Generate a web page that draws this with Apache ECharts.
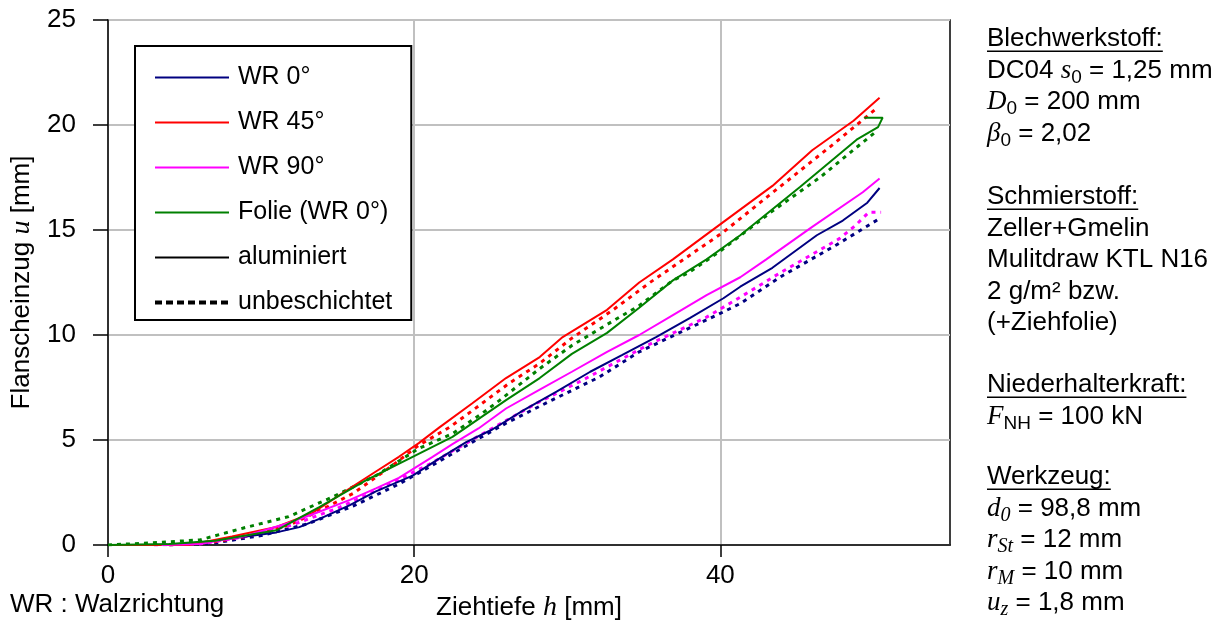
<!DOCTYPE html>
<html>
<head>
<meta charset="utf-8">
<script src="https://cdn.jsdelivr.net/npm/echarts@6/dist/echarts.min.js"></script>
<style>
  html, body { margin: 0; padding: 0; background: #fff; }
  #chart { width: 1220px; height: 624px; }
</style>
</head>
<body>
<div id="chart"></div>
<script>
// Flanscheinzug u [mm] over Ziehtiefe h [mm]; pairs are [h, u]
const wr0Aluminiert = [[0,0],[3,0],[5,0.05],[7,0.2],[9,0.4],[11,0.6],[12.5,0.85],[14,1.3],[15.8,1.9],[17.5,2.55],[19.9,3.3],[21.5,4.05],[23.4,4.9],[25.1,5.5],[27.1,6.4],[29.3,7.3],[31.5,8.25],[33.6,9.05],[35.8,9.9],[38,10.8],[40.2,11.75],[41.3,12.3],[43.4,13.2],[46.3,14.75],[48,15.45],[49.6,16.3],[50.4,17.0]];
const wr45Aluminiert = [[0,0],[5.3,0],[8.1,0.4],[11,0.86],[13.3,1.5],[15.8,2.7],[17.5,3.5],[19,4.2],[20.3,4.85],[21.65,5.6],[23.8,6.75],[26,7.95],[28.2,8.95],[29.7,9.9],[32.6,11.2],[34.7,12.5],[36.9,13.6],[39.3,14.9],[43.4,17.1],[46,18.8],[48.7,20.2],[50.4,21.3]];
const wr90Aluminiert = [[3.5,0],[6,0.05],[8.8,0.4],[11.8,1.05],[13.5,1.5],[15.8,2.15],[17.5,2.7],[19,3.2],[21.2,4.2],[22.5,4.8],[24.2,5.55],[26,6.5],[28.2,7.4],[30.3,8.25],[32.6,9.2],[34.7,10.0],[36.9,10.95],[39.1,11.9],[41.3,12.75],[43,13.6],[46,15.15],[49.3,16.8],[50.4,17.45]];
const folieAluminiert = [[0,0],[4,0.05],[7,0.2],[9,0.45],[11,0.7],[13.8,1.8],[16.9,3.1],[19.9,4.2],[22.5,5.15],[24,5.9],[26,6.9],[28.2,7.95],[30.3,9.1],[32.6,10.1],[34.7,11.3],[36.9,12.6],[39.1,13.6],[41.3,14.75],[45.2,17.05],[48.9,19.3],[50.3,19.9],[50.6,20.35],[49.4,20.35]];

const wr0Unbeschichtet = [[4,0],[7,0.1],[10,0.45],[13,1.0],[16,1.85],[19,2.9],[21.2,3.8],[23.8,4.9],[26,5.8],[29,6.9],[32.1,8.0],[34.7,9.2],[37.3,10.1],[40.2,11.1],[41.3,11.5],[44,12.8],[47.6,14.3],[50.3,15.5]];
const wr45Unbeschichtet = [[4,0],[7,0.15],[10,0.55],[12,1.0],[14,1.7],[16,2.45],[18.6,3.8],[20.3,4.75],[22.3,5.6],[23.8,6.4],[26.2,7.7],[28.2,8.65],[30.3,9.85],[33,11.2],[35.4,12.5],[37.8,13.7],[40.2,14.9],[43.1,16.6],[47.4,19.1],[48.9,20.0],[50.3,20.85]];
const wr90Unbeschichtet = [[3,0],[6,0.05],[9,0.4],[12,0.95],[15,1.75],[18,2.75],[21,3.85],[24,5.1],[28,6.75],[31,7.85],[35.2,9.5],[39.1,10.85],[41.3,11.8],[44,13.0],[47.8,14.6],[48.8,15.2],[49.7,15.85],[50.5,15.85]];
const folieUnbeschichtet = [[0,0],[2.7,0.1],[6,0.24],[8.8,0.8],[11.8,1.35],[14.7,2.3],[17.5,3.3],[20.3,4.6],[22.5,5.3],[24.5,6.3],[25.6,6.9],[28.2,8.4],[30.3,9.5],[32.6,10.5],[34.7,11.4],[36.9,12.6],[38,13.0],[40,14.0],[43.4,15.9],[46.5,17.5],[48.5,18.7],[50.2,19.7]];

const legendNames = ['WR 0°', 'WR 45°', 'WR 90°', 'Folie (WR 0°)', 'aluminiert', 'unbeschichtet'];
const xTicks = [0, 20, 40];
const yTicks = [0, 5, 10, 15, 20, 25];

const SANS = "'Liberation Sans', Arial, sans-serif";
const SERIF = "'Liberation Serif', 'Times New Roman', serif";

const solidStyle = (color) => ({ color: color, width: 2, type: 'solid' });
const dotStyle = (color) => ({ color: color, width: 3, type: [4, 5] });

function curve(name, data, color, dotted) {
  return {
    name: name,
    type: 'line',
    data: data,
    symbol: 'none',
    smooth: false,
    animation: false,
    itemStyle: { color: color, opacity: 0 },
    lineStyle: dotted ? dotStyle(color) : solidStyle(color),
    z: dotted ? 3 : 4
  };
}

const series = [
  curve('WR 0°', wr0Aluminiert, '#000080', false),
  curve('WR 45°', wr45Aluminiert, '#ff0000', false),
  curve('WR 90°', wr90Aluminiert, '#ff00ff', false),
  curve('Folie (WR 0°)', folieAluminiert, '#008000', false),
  curve('WR 0° unbeschichtet', wr0Unbeschichtet, '#000080', true),
  curve('WR 45° unbeschichtet', wr45Unbeschichtet, '#ff0000', true),
  curve('WR 90° unbeschichtet', wr90Unbeschichtet, '#ff00ff', true),
  curve('Folie (WR 0°) unbeschichtet', folieUnbeschichtet, '#008000', true),
  // line-style keys for the legend
  curve('aluminiert', [], '#000000', false),
  Object.assign(curve('unbeschichtet', [], '#000000', true), { lineStyle: { color: '#000', width: 4, type: [7, 4] } })
];

// side panel: test conditions
const sub = (t) => '{sub|' + t + '}';
const panelRich = {
  n: { fontFamily: SANS, fontSize: 26, fill: '#000', lineHeight: 31.5 },
  i: { fontFamily: SERIF, fontStyle: 'italic', fontSize: 27, fill: '#000', lineHeight: 31.5 },
  sub: { fontFamily: SANS, fontSize: 19, fill: '#000', lineHeight: 31.5, padding: [14, 0, 0, 0] },
  isub: { fontFamily: SERIF, fontStyle: 'italic', fontSize: 20, fill: '#000', lineHeight: 31.5, padding: [14, 0, 0, 0] }
};
const panelBlocks = [
  { top: 26, head: 'Blechwerkstoff:', lines: [
    '{n|DC04 }{i|s}' + sub('0') + '{n| = 1,25 mm}',
    '{i|D}' + sub('0') + '{n| = 200 mm}',
    '{i|β}' + sub('0') + '{n| = 2,02}'
  ]},
  { top: 184, head: 'Schmierstoff:', lines: [
    '{n|Zeller+Gmelin}', '{n|Mulitdraw KTL N16}', '{n|2 g/m² bzw.}', '{n|(+Ziehfolie)}'
  ]},
  { top: 372, head: 'Niederhalterkraft:', lines: [
    '{i|F}' + sub('NH') + '{n| = 100 kN}'
  ]},
  { top: 464, head: 'Werkzeug:', lines: [
    '{i|d}{isub|0}{n| = 98,8 mm}',
    '{i|r}{isub|St}{n| = 12 mm}',
    '{i|r}{isub|M}{n| = 10 mm}',
    '{i|u}{isub|z}{n| = 1,8 mm}'
  ]}
];

const measureCtx = document.createElement('canvas').getContext('2d');
function textWidth(str, font) { measureCtx.font = font; return measureCtx.measureText(str).width; }

const panelLeft = 987;
const graphics = [];
panelBlocks.forEach(function (b) {
  graphics.push({
    type: 'text', left: panelLeft, top: b.top, silent: true,
    style: { text: ['{n|' + b.head + '}'].concat(b.lines).join('\n'), rich: panelRich, fill: '#000' }
  });
  const w = textWidth(b.head, '26px ' + SANS);
  const y = b.top + 15.75 + 9.5;
  graphics.push({
    type: 'line', silent: true,
    shape: { x1: panelLeft, y1: y, x2: panelLeft + w, y2: y },
    style: { stroke: '#000', lineWidth: 1.5 }
  });
});
graphics.push({
  type: 'text', left: 10, top: 592, silent: true,
  style: { text: 'WR : Walzrichtung', font: '26px ' + SANS, fill: '#000' }
});

const chart = echarts.init(document.getElementById('chart'), null, { renderer: 'canvas' });
chart.setOption({
  animation: false,
  backgroundColor: '#fff',
  textStyle: { fontFamily: SANS, color: '#000' },
  grid: {
    left: 108, right: 270, top: 20, bottom: 79,
    show: true, borderColor: '#000', borderWidth: 1.5, backgroundColor: '#fff',
    containLabel: false, outerBoundsMode: 'none'
  },
  legend: {
    data: legendNames,
    orient: 'vertical',
    left: 135, top: 46,
    padding: [19, 19, 5, 18],
    itemWidth: 74, itemHeight: 14, itemGap: 20,
    backgroundColor: '#fff',
    borderColor: '#000', borderWidth: 2,
    selectedMode: false,
    itemStyle: { opacity: 0 },
    lineStyle: { width: 'inherit', type: 'inherit' },
    textStyle: { fontSize: 25, color: '#000', fontFamily: SANS, padding: [0, 0, 0, 4] }
  },
  xAxis: {
    type: 'value', min: 0, max: 55, interval: 20,
    name: '{a|Ziehtiefe }{i|h}{a| [mm]}',
    nameLocation: 'middle', nameGap: 48,
    nameTextStyle: { rich: {
      a: { fontFamily: SANS, fontSize: 26, color: '#000' },
      i: { fontFamily: SERIF, fontStyle: 'italic', fontSize: 28, color: '#000' }
    }},
    axisLine: { show: true, onZero: false, lineStyle: { color: '#000', width: 1.5 } },
    axisTick: { show: true, inside: false, length: 12, customValues: xTicks, lineStyle: { color: '#000', width: 1.5 } },
    axisLabel: { customValues: xTicks, fontSize: 26, color: '#000', margin: 18, fontFamily: SANS },
    splitLine: { show: true, lineStyle: { color: '#c0c0c0', width: 2 } },
    minorTick: { show: false }
  },
  yAxis: {
    type: 'value', min: 0, max: 25, interval: 5,
    name: '{a|Flanscheinzug }{i|u}{a| [mm]}',
    nameLocation: 'middle', nameGap: 72, nameRotate: 90,
    nameTextStyle: { rich: {
      a: { fontFamily: SANS, fontSize: 26, color: '#000' },
      i: { fontFamily: SERIF, fontStyle: 'italic', fontSize: 28, color: '#000' }
    }},
    axisLine: { show: true, onZero: false, lineStyle: { color: '#000', width: 1.5 } },
    axisTick: { show: true, inside: false, length: 15, customValues: yTicks, lineStyle: { color: '#000', width: 1.5 } },
    axisLabel: { customValues: yTicks, fontSize: 26, color: '#000', margin: 32, fontFamily: SANS },
    splitLine: { show: true, lineStyle: { color: '#c0c0c0', width: 2 } }
  },
  series: series,
  graphic: graphics
});
</script>
</body>
</html>
